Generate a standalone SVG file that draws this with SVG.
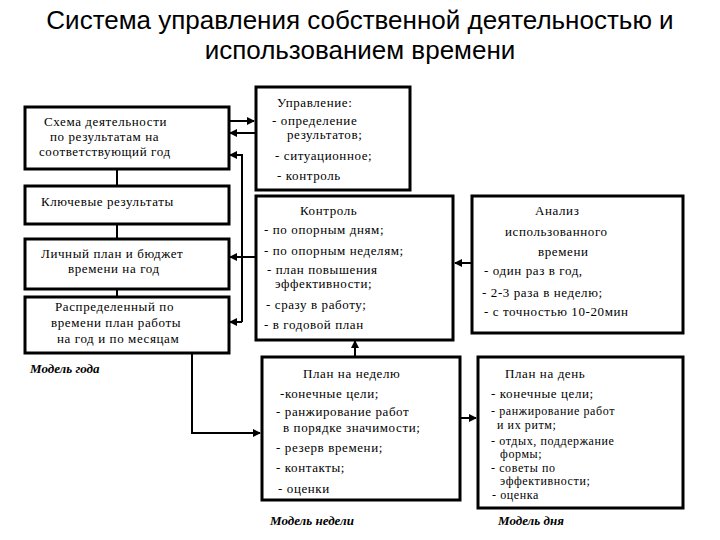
<svg xmlns="http://www.w3.org/2000/svg" width="720" height="540" viewBox="0 0 720 540">
<style>
.b{fill:#fff;stroke:#000;stroke-width:3}
.t{font-family:"Liberation Serif",serif;font-size:13px;fill:#000;letter-spacing:0.6px}
.s{font-size:12px}
.m{font-family:"Liberation Serif",serif;font-size:13px;font-style:italic;font-weight:bold}
.c{stroke:#000;stroke-width:2;fill:none}
.h{font-family:"Liberation Sans",sans-serif;font-size:26px;text-anchor:middle}
</style>
<defs><marker id="a" markerWidth="8" markerHeight="8" refX="7" refY="4" orient="auto" markerUnits="userSpaceOnUse"><path d="M0,0L8,4L0,8z"/></marker></defs>
<rect width="720" height="540" fill="#fff"/>
<text class="h" x="360" y="29">Система управления собственной деятельностью и</text>
<text class="h" x="360" y="59">использованием времени</text>
<g id="connectors">
<path class="c" d="M117,169V186M117,224V239M117,289V297"/>
<path class="c" d="M229,121H254" marker-end="url(#a)"/>
<path class="c" d="M255,133H230" marker-end="url(#a)"/>
<path class="c" d="M242,322V155H230" marker-end="url(#a)"/>
<path class="c" d="M255,257H230" marker-end="url(#a)"/>
<path class="c" d="M242,322H230" marker-end="url(#a)"/>
<path class="c" d="M472,263H455" marker-end="url(#a)"/>
<path class="c" d="M355,356V341" marker-end="url(#a)"/>
<path class="c" d="M192,353V433H260" marker-end="url(#a)"/>
<path class="c" d="M460,418H476" marker-end="url(#a)"/>
</g>
<g id="n1"><rect class="b" x="25" y="107" width="204" height="62"/><text class="t" x="44" y="126">Схема деятельности</text><text class="t" x="50" y="141">по результатам на</text><text class="t" x="39" y="156">соответствующий год</text></g>
<g id="n2"><rect class="b" x="25" y="186" width="204" height="38"/><text class="t" x="41" y="206">Ключевые результаты</text></g>
<g id="n3"><rect class="b" x="25" y="239" width="204" height="50"/><text class="t" x="41" y="258">Личный план и бюджет</text><text class="t" x="68" y="273">времени на год</text></g>
<g id="n4"><rect class="b" x="25" y="297" width="204" height="56"/><text class="t" x="55" y="311">Распределенный по</text><text class="t" x="51" y="327">времени план работы</text><text class="t" x="57" y="343">на год и по месяцам</text></g>
<text class="m" x="30" y="373">Модель года</text>
<g id="n5"><rect class="b" x="256" y="87" width="154" height="103"/><text class="t" x="277" y="107">Управление:</text><text class="t" x="272" y="125">-  определение</text><text class="t" x="287" y="139">результатов;</text><text class="t" x="275" y="160">- ситуационное;</text><text class="t" x="277" y="180">- контроль</text></g>
<g id="n6"><rect class="b" x="256" y="196" width="197" height="144"/><text class="t" x="300" y="215">Контроль</text><text class="t" x="264" y="234">- по  опорным дням;</text><text class="t" x="264" y="255">- по опорным неделям;</text><text class="t" x="267" y="274">- план повышения</text><text class="t" x="275" y="288">эффективности;</text><text class="t" x="266" y="309">- сразу в работу;</text><text class="t" x="264" y="329">- в годовой план</text></g>
<g id="n7"><rect class="b" x="472" y="196" width="211" height="137"/><text class="t" x="535" y="215">Анализ</text><text class="t" x="505" y="236">использованного</text><text class="t" x="538" y="256">времени</text><text class="t" x="484" y="275">- один раз в год,</text><text class="t" x="482" y="297">- 2-3 раза в неделю;</text><text class="t" x="484" y="316">- с точностью 10-20мин</text></g>
<g id="n8"><rect class="b" x="262" y="357" width="198" height="143"/><text class="t" x="303" y="378">План на неделю</text><text class="t" x="280" y="398">-конечные цели;</text><text class="t" x="276" y="416">- ранжирование работ</text><text class="t" x="283" y="432">в порядке значимости;</text><text class="t" x="276" y="452">- резерв времени;</text><text class="t" x="276" y="472">- контакты;</text><text class="t" x="278" y="493">- оценки</text></g>
<g id="n9"><rect class="b" x="478" y="357" width="205" height="151"/><text class="t" x="505" y="378">План на день</text><text class="t" x="491" y="398">- конечные цели;</text><text class="t s" x="491" y="415">- ранжирование работ</text><text class="t s" x="497" y="429">и их ритм;</text><text class="t s" x="491" y="445">- отдых, поддержание</text><text class="t s" x="500" y="458">формы;</text><text class="t s" x="491" y="472">- советы по</text><text class="t s" x="500" y="485">эффективности;</text><text class="t s" x="492" y="499">- оценка</text></g>
<text class="m" x="270" y="525">Модель недели</text>
<text class="m" x="498" y="525">Модель дня</text>
</svg>
